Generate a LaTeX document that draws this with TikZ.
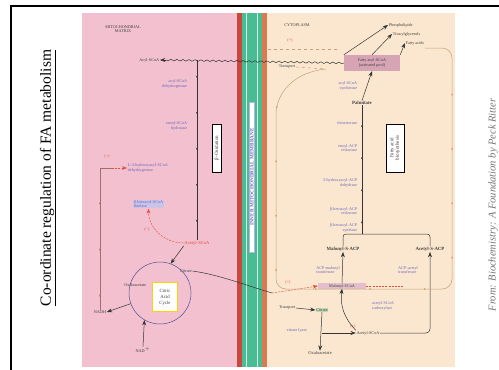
\documentclass[tikz,border=0pt]{standalone}
\usepackage{fontspec}
\setmainfont{Liberation Serif}
\usetikzlibrary{arrows.meta,positioning,decorations.pathmorphing,decorations.markings}
\definecolor{pinkbg}{HTML}{F2C0CE}
\definecolor{creambg}{HTML}{FBE7CF}
\definecolor{memgreen}{HTML}{49BC93}
\definecolor{memred}{HTML}{C9473D}
\definecolor{memrust}{HTML}{D97A52}
\definecolor{enzblue}{HTML}{6B68BE}
\definecolor{lblgray}{HTML}{3F3F3F}
\definecolor{regred}{HTML}{E0503E}
\definecolor{loopbrown}{HTML}{C8A07C}
\definecolor{poolpink}{HTML}{D7A4B6}
\definecolor{lavender}{HTML}{CBC4E6}
\definecolor{citgreen}{HTML}{BFD9B4}
\tikzset{
  lbl/.style={font=\fontsize{4.2}{4.7}\selectfont, text=lblgray, inner sep=0.6pt, align=center},
  enz/.style={lbl, text=enzblue},
  keylbl/.style={lbl, font=\fontsize{4.8}{5.4}\selectfont\bfseries},
  reg/.style={lbl, text=regred},
  pathbox/.style={lbl, draw=black, fill=white, rotate=90, line width=0.5pt, inner sep=1.2pt},
  flow/.style={draw=black!80, line width=0.5pt},
  ticked/.style={postaction={decorate}, decoration={markings,
      mark=between positions 0.1 and 0.96 step #1 with {\arrow{Stealth[length=2.2pt,width=2pt]}}}},
  ticked/.default=0.2,
  loopline/.style={draw=loopbrown, line width=0.5pt},
  regline/.style={draw=regred, line width=0.45pt, dash pattern=on 2pt off 1.2pt},
}
\begin{document}
\begin{tikzpicture}[x=1pt,y=-1pt,>=Stealth]
\useasboundingbox (0,0) rectangle (499,370);
% slide frame, title and source
\draw[line width=2.5pt] (11,370) -- (11,6) -- (499,6);
\node[rotate=90, font=\fontsize{15.5}{18}\selectfont] (title) at (48,178)
  {\underline{Co-ordinate regulation of FA metabolism}};
\node[rotate=90, anchor=base, inner sep=0pt, font=\fontsize{10.5}{12}\selectfont\itshape, text=black!55] (credit)
  at (495.5,205) {From: Biochemistry: A Foundation by Peck Ritter};

% compartments
\fill[pinkbg] (82,13) rectangle (237,367);
\fill[memred] (237,13) rectangle (242,367);
\fill[memgreen] (242,13) rectangle (262,367);
\fill[memrust] (262,13) rectangle (267,367);
\fill[creambg] (267,13) rectangle (455,367);
\draw[white!75!memgreen, line width=0.6pt] (246.5,13) -- (246.5,367) (257.5,13) -- (257.5,367);
\node[lbl, rotate=90, fill=white, draw=enzblue!50, text=enzblue, font=\fontsize{5.2}{6}\selectfont\bfseries,
  minimum width=150pt] (membrane) at (252,177) {INNER MITOCHONDRIAL MEMBRANE};

% mitochondrial matrix
\node[lbl] (matrix) at (123,29) {MITOCHONDRIAL\\MATRIX};
\node[lbl, anchor=east] (acylm) at (160,60) {Acyl-SCoA};
\node[enz, anchor=east, align=right] (acydh) at (188,84) {acyl-SCoA\\dehydrogenase};
\node[enz, anchor=east, align=right] (hydra) at (188,126) {enoyl-SCoA\\hydratase};
\node[enz, anchor=west, align=left] (hadh) at (127,168) {L-3-hydroxyacyl-SCoA\\dehydrogenase};
\node[enz, fill=lavender, anchor=west, align=left] (thiol) at (133,204) {β-ketoacyl-SCoA\\thiolase};
\node[pathbox, font=\fontsize{5}{5.6}\selectfont, minimum width=48pt, minimum height=9pt] (betaox) at (217,148) {β-Oxidation};
\node[reg, font=\fontsize{4.6}{5}\selectfont] (acetm) at (197,243) {Acetyl-SCoA};
\node[draw=enzblue!80!black, line width=0.5pt, circle, minimum size=62pt, inner sep=0pt] (tca) at (160,293) {};
\node[lbl, draw=yellow!70!orange, fill=white, line width=0.7pt, minimum width=25pt, minimum height=29pt,
  font=\fontsize{4.8}{6}\selectfont] (tcabox) at (165,297) {Citric\\Acid\\Cycle};
\node[lbl] (citm) at (186,271) {Citrate};
\node[lbl, anchor=east] (oaam) at (147,285) {Oxaloacetate};
\node[lbl] (nadh) at (100,312) {NADH};
\node[lbl] (nad) at (143,350) {NAD$^+$};
\node[reg] (inhA) at (107,156) {(−)};
\node[reg] (inhB) at (147,229) {(−)};

\coordinate (acin) at (166,60);
\coordinate (bstart) at (197,60);
\draw[flow, ticked] (bstart) -- (acetm.north);
\draw[flow,->] (acetm.south west) -- (tca.70);
\draw[flow,->] (tca.200) -- (nadh.east);
\draw[flow,->] (nad.north) -- (tca.240);
\coordinate (nadhturn) at (nadh.north |- hadh.west);
\coordinate (nadhred) at (112,168);
\draw[draw=regred!35!pinkbg!70!black, line width=0.45pt, ticked=0.3] (nadh.north) -- (nadhturn) -- (nadhred);
\draw[regline,->] (nadhred) -- (hadh.west);
\draw[regline,->] (acetm.west) to[out=180,in=-90] (thiol.south);

% cytoplasm
\node[lbl] (cyto) at (297,25) {CYTOPLASM};
\node[lbl, anchor=west] (plipid) at (388,25) {Phospholipids};
\node[lbl, anchor=west] (tag) at (392,34) {Triacylglycerols};
\node[lbl, anchor=west] (ffa) at (405,43) {Fatty acids};
\node[reg] (actA) at (290,40) {(+)};
\node[lbl] (transtop) at (287,67) {Transport};
\node[lbl, fill=poolpink, minimum width=56pt, minimum height=16pt] (pool) at (372,63) {Fatty acyl-SCoA\\(activated pool)};
\node[keylbl] (palm) at (362,103) {Palmitate};
\node[enz, anchor=east, align=right] (synth) at (358,86) {acyl-SCoA\\synthetase};
\node[enz, anchor=east] (thioe) at (358,123) {thioesterase};
\node[enz, anchor=east, align=right] (enr) at (358,148) {enoyl-ACP\\reductase};
\node[enz, anchor=east, align=right] (dehy) at (358,183) {3-hydroxyacyl-ACP\\dehydrase};
\node[enz, anchor=east, align=right] (kred) at (358,211) {β-ketoacyl-ACP\\reductase};
\node[enz, anchor=east, align=right] (ksyn) at (358,228) {β-ketoacyl-ACP\\synthase};
\node[pathbox, font=\fontsize{5}{5.6}\selectfont, minimum width=48pt, minimum height=18pt] (fabox) at (395,148) {Fatty acid\\biosynthesis};
\node[keylbl] (malacp) at (343,249) {Malonyl-S-ACP};
\node[keylbl] (acacp) at (430,249) {Acetyl-S-ACP};
\node[enz, align=left] (mtrans) at (328,270) {ACP-malonyl\\transferase};
\node[enz, align=left] (atrans) at (408,270) {ACP-acetyl\\transferase};
\node[lbl, fill=poolpink!70, minimum width=48pt] (malcoa) at (342,286) {Malonyl-SCoA};
\node[enz, align=left] (acc) at (383,306) {acetyl-SCoA\\carboxylase};
\node[lbl, anchor=east] (transbot) at (296,308) {Transport};
\node[lbl, fill=citgreen] (citc) at (322,310) {Citrate};
\node[enz] (lyase) at (297,330) {citrate lyase};
\node[reg] (actB) at (353,326) {(+)};
\node[lbl] (acetc) at (368,333) {Acetyl-SCoA};
\node[keylbl, font=\fontsize{4.5}{5}\selectfont] (oaac) at (320,353) {Oxaloacetate};
\node[reg] (actC) at (288,282) {(+)};

% transport across the membrane
\draw[flow, decorate, decoration={snake, amplitude=0.8pt, segment length=6pt}] (pool.west) -- (acin);
\draw[flow,->] (acin) -- (acylm.east);
\coordinate (ctport) at (272,293);
\draw[flow] (citm.east) .. controls (220,275) and (245,285) .. (ctport);
\draw[regline,->] (ctport) -- (malcoa.west);

\draw[flow,->] (pool.north west) -- (plipid.west);
\draw[flow,->] (pool.north) -- (tag.west);
\draw[flow,->] (pool.north east) -- (ffa.west);
\coordinate (join) at (362,234);
\draw[flow, rounded corners=3pt] (malacp.north) |- (join);
\draw[flow, rounded corners=3pt] (acacp.north) |- (join);
\draw[flow, ticked=0.25] (join) -- (palm.south);
\draw[flow,->] (palm.north) -- (pool.south);
\draw[flow,->] (malcoa.north) -- (malacp.south);
\draw[flow,->] (transbot.east) -- (citc.west);
\draw[flow,->] (citc.south) -- (oaac.north);
\coordinate (split) at (citc.south |- acetc);
\draw[flow,->] (split) -- (acetc.west);
\draw[flow,->, rounded corners=4pt] (acetc.east) -| (acacp.south);
\draw[flow,->] (acetc.north west) to[bend left=25] (malcoa.south);
\coordinate (malinh) at (403,286);
\draw[regline] (malcoa.east) -- (malinh);

% regulatory loop
\coordinate (lstart) at (326,69);
\draw[loopline, dashed] (transtop.east) -- (lstart);
\draw[loopline, dashed] (268,49) -- (338,49);
\draw[loopline, ticked=0.08, rounded corners=10pt] (lstart) .. controls (295,72) and (276,92) .. (276,125)
  -- (276,289) -- (452,289) -- (452,48) -- (425,48);
\end{tikzpicture}
\end{document}
